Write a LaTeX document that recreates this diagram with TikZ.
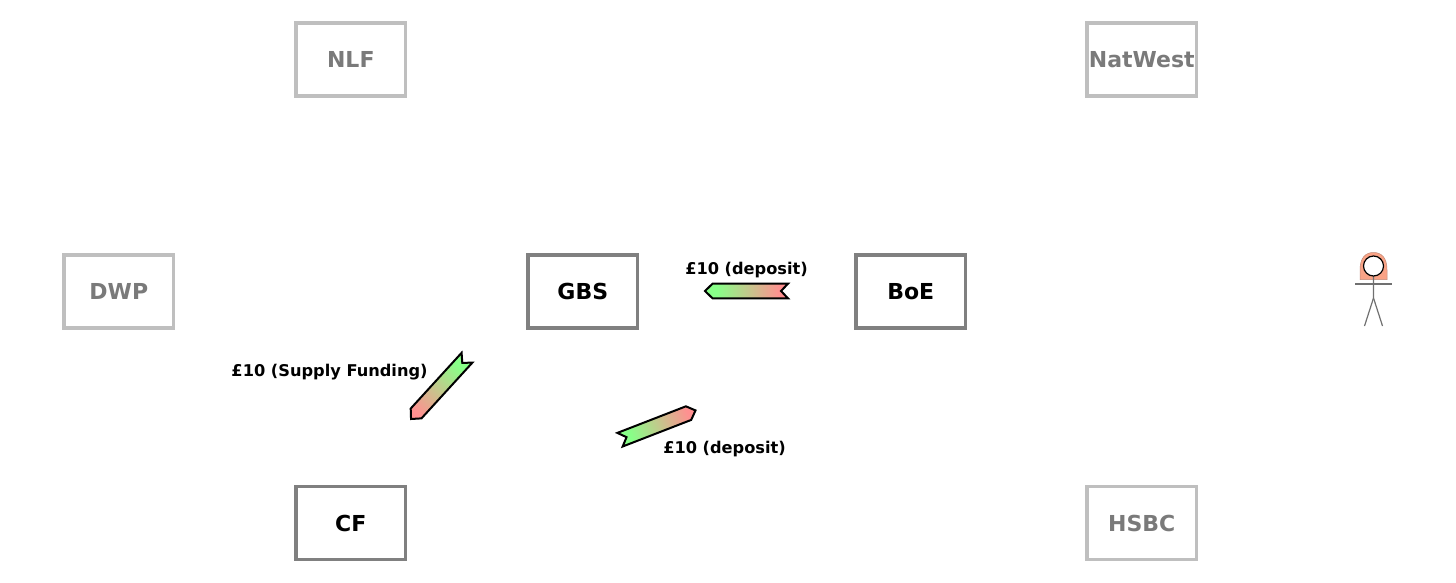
\documentclass[tikz,border=0pt]{standalone}
\usepackage{fontspec}
\setmainfont{DejaVu Sans}
\definecolor{flowgreen}{HTML}{88FF88}
\definecolor{flowred}{HTML}{FF9090}
\definecolor{activeedge}{HTML}{808080}
\definecolor{fadeedge}{HTML}{BFBFBF}
\definecolor{fadetext}{HTML}{7A7A7A}
\definecolor{cloak}{HTML}{F9A386}
\definecolor{cloakedge}{HTML}{C08A78}
\definecolor{stick}{HTML}{707070}
\pgfdeclarehorizontalshading{flowgrad}{100bp}{color(0bp)=(flowgreen); color(32bp)=(flowgreen); color(70bp)=(flowred); color(100bp)=(flowred)}
\pgfdeclarehorizontalshading{flowgradrev}{100bp}{color(0bp)=(flowred); color(30bp)=(flowred); color(68bp)=(flowgreen); color(100bp)=(flowgreen)}
\tikzset{
  x=1pt,y=-1pt,
  acct/.style={draw=#1,line width=3.6pt,minimum width=109.6pt,minimum height=73pt,inner sep=0pt,font=\fontsize{22}{26}\selectfont\bfseries},
  active/.style={acct=activeedge,text=black},
  faded/.style={acct=fadeedge,text=fadetext},
  flowlabel/.style={inner sep=0pt,font=\fontsize{16.2}{20}\selectfont\bfseries,text=black},
  flow/.style={draw=black,line width=2pt,line join=miter,shading=#1},
}
% #1 x, #2 y of the notched end, #3 rotation, #4 shading, #5 length
\newcommand{\flowarrow}[5]{%
  \begin{scope}[transform canvas={shift={(#1,#2)},rotate=#3}]
    \path[flow=#4] (0,-7.3) -- ({#5-7.5},-7.3) -- (#5,0) -- ({#5-7.5},7.3) -- (0,7.3) -- (7,0) -- cycle;
  \end{scope}}
\begin{document}
\begin{tikzpicture}
\useasboundingbox (0,0) rectangle (1456,582);
\node[faded] (nlf) at (350.8,59.5) {NLF};
\node[faded] (natwest) at (1141.8,59.5) {NatWest};
\node[faded] (dwp) at (118.8,291.5) {DWP};
\node[active] (gbs) at (582.8,291.5) {GBS};
\node[active] (boe) at (910.8,291.5) {BoE};
\node[active] (cf) at (350.8,523) {CF};
\node[faded] (hsbc) at (1141.8,523) {HSBC};
\node[flowlabel] (l1) at (746.5,270) {£10 (deposit)};
\node[flowlabel] (l2) at (329.5,372) {£10 (Supply Funding)};
\node[flowlabel] (l3) at (724.5,449.5) {£10 (deposit)};
% flows
\flowarrow{788}{291}{180}{flowgradrev}{83}
\flowarrow{467}{357.7}{-132.4}{flowgrad}{83}
\flowarrow{620}{439.7}{21.2}{flowgrad}{81}
% person
\coordinate (neck) at (1373.5,276);
\coordinate (hip) at (1373.5,298);
\fill[cloak,draw=cloakedge,line width=.5pt] (1360,279.5) -- (1360,270) .. controls (1360,257) and (1366,252.5) .. (1373.5,252.5) .. controls (1381,252.5) and (1387,257) .. (1387,270) -- (1387,279.5) -- cycle;
\draw[stick,line width=1.2pt] (1355,284) -- (1392,284);
\draw[stick,line width=1.2pt] (neck) -- (hip) -- (1364.5,326);
\draw[stick,line width=1.2pt] (hip) -- (1382.5,326);
\node[circle,draw=black,fill=white,line width=1.2pt,minimum size=20pt,inner sep=0pt] (head) at (1373.5,266) {};
\end{tikzpicture}
\end{document}
